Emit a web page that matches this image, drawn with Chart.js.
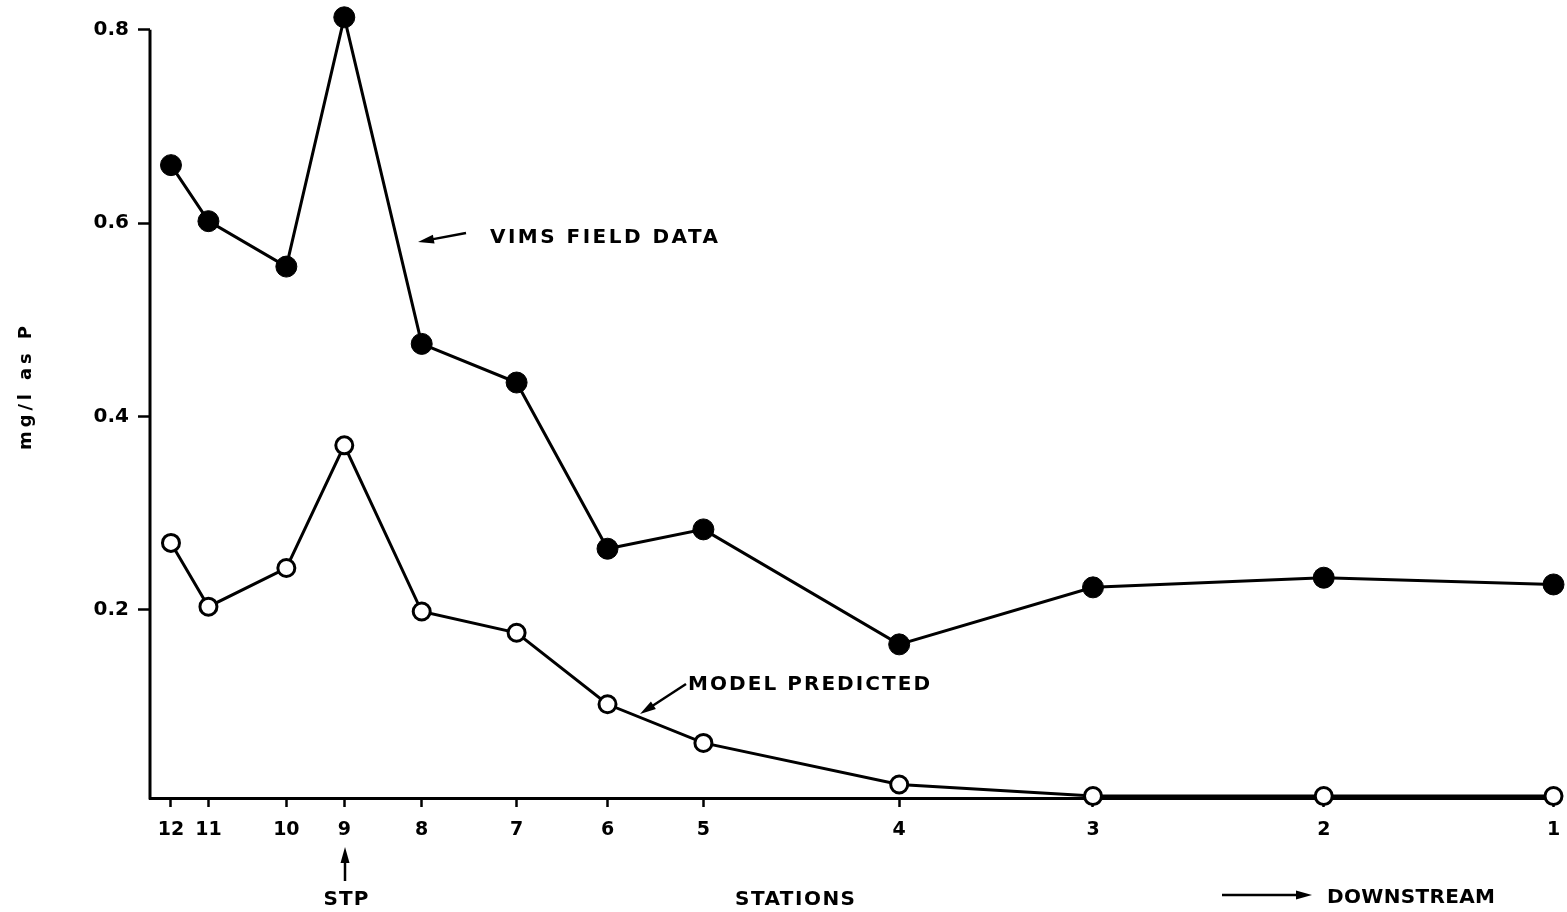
<!DOCTYPE html>
<html>
<head>
<meta charset="utf-8">
<script src="https://cdn.jsdelivr.net/npm/chart.js@4.4.1/dist/chart.umd.min.js"></script>
<style>
  html, body { margin: 0; padding: 0; background: #fff; }
  canvas { display: block; }
</style>
</head>
<body>
<canvas id="phosChart" width="1567" height="912"></canvas>
<script>
// stations listed upstream -> downstream, with distance along the river (arbitrary units from station 12)
const stations = ["12", "11", "10", "9", "8", "7", "6", "5", "4", "3", "2", "1"];
const stationDist = [0, 0.75, 2.31, 3.47, 5.02, 6.92, 8.74, 10.66, 14.58, 18.46, 23.08, 27.68];

// mg/l as P
const fieldData = [0.660, 0.602, 0.555, 0.813, 0.475, 0.435, 0.263, 0.283, 0.164, 0.223, 0.233, 0.226];
const modelPredicted = [0.269, 0.203, 0.243, 0.370, 0.198, 0.176, 0.102, 0.062, 0.019, 0.007, 0.007, 0.007];

const yTicks = [0.2, 0.4, 0.6, 0.8];

const FONT = "'DejaVu Sans', 'Liberation Sans', sans-serif";

function toPoints(values) {
  return values.map((v, i) => ({ x: stationDist[i], y: v }));
}

// text stretched over a given width with letter spacing, like the hand lettering
function spacedText(ctx, text, x, y, width, align) {
  ctx.letterSpacing = "0px";
  const plain = ctx.measureText(text).width;
  const gap = Math.max(0, (width - plain) / (text.length - 1));
  ctx.letterSpacing = gap + "px";
  ctx.textAlign = "left";
  let left = x;
  if (align === "center") left = x - width / 2;
  if (align === "right") left = x - width;
  ctx.fillText(text, left, y);
  ctx.letterSpacing = "0px";
}

function arrow(ctx, x1, y1, x2, y2) {
  const ang = Math.atan2(y2 - y1, x2 - x1);
  const len = 16, half = 4.5;
  ctx.beginPath();
  ctx.moveTo(x1, y1);
  ctx.lineTo(x2 - Math.cos(ang) * len * 0.8, y2 - Math.sin(ang) * len * 0.8);
  ctx.stroke();
  ctx.beginPath();
  ctx.moveTo(x2, y2);
  ctx.lineTo(x2 - Math.cos(ang) * len - Math.sin(ang) * half, y2 - Math.sin(ang) * len + Math.cos(ang) * half);
  ctx.lineTo(x2 - Math.cos(ang) * len + Math.sin(ang) * half, y2 - Math.sin(ang) * len - Math.cos(ang) * half);
  ctx.closePath();
  ctx.fill();
}

// y axis line only runs up to the top tick (0.8), points may rise above it
const yAxisLine = {
  id: "yAxisLine",
  beforeDatasetsDraw(chart) {
    const { ctx, scales: { x, y } } = chart;
    ctx.save();
    ctx.strokeStyle = "#000";
    ctx.lineWidth = 3;
    ctx.beginPath();
    ctx.moveTo(x.left, y.getPixelForValue(yTicks[yTicks.length - 1]));
    ctx.lineTo(x.left, y.bottom + 1.5);
    ctx.stroke();
    ctx.restore();
  }
};

const notes = {
  id: "notes",
  afterDraw(chart) {
    const ctx = chart.ctx;
    ctx.save();
    ctx.fillStyle = "#000";
    ctx.strokeStyle = "#000";
    ctx.lineWidth = 2.5;
    ctx.textBaseline = "alphabetic";

    ctx.font = "bold 20px " + FONT;
    spacedText(ctx, "VIMS FIELD DATA", 490, 243, 228);
    arrow(ctx, 466, 233, 418, 242);

    spacedText(ctx, "MODEL PREDICTED", 688, 690, 242);
    arrow(ctx, 686, 684, 640, 714);

    spacedText(ctx, "STP", 346, 905, 45, "center");
    arrow(ctx, 345, 881, 345, 847);

    spacedText(ctx, "STATIONS", 795, 905, 120, "center");
    spacedText(ctx, "DOWNSTREAM", 1327, 903, 168);
    arrow(ctx, 1222, 895, 1312, 895);

    // y axis title
    ctx.save();
    ctx.translate(31, 388);
    ctx.rotate(-Math.PI / 2);
    ctx.font = "bold 18px " + FONT;
    spacedText(ctx, "mg/l as P", 0, 0, 124, "center");
    ctx.restore();

    ctx.restore();
  }
};

new Chart(document.getElementById("phosChart").getContext("2d"), {
  type: "line",
  data: {
    datasets: [
      {
        label: "VIMS FIELD DATA",
        data: toPoints(fieldData),
        borderColor: "#000",
        borderWidth: 3,
        pointRadius: 10.5,
        pointBackgroundColor: "#000",
        pointBorderColor: "#000",
        pointBorderWidth: 1,
        tension: 0,
        clip: false
      },
      {
        label: "MODEL PREDICTED",
        data: toPoints(modelPredicted),
        borderColor: "#000",
        borderWidth: 3,
        pointRadius: 8.5,
        pointBackgroundColor: "#fff",
        pointBorderColor: "#000",
        pointBorderWidth: 3,
        tension: 0,
        clip: false
      }
    ]
  },
  options: {
    responsive: false,
    animation: false,
    events: [],
    layout: { padding: { top: 1, right: 6, left: 0, bottom: 0 } },
    plugins: {
      legend: { display: false },
      tooltip: { enabled: false }
    },
    scales: {
      x: {
        type: "linear",
        min: -0.42,
        max: 27.72,
        afterFit(scale) {
          scale.height = 114;
          scale.paddingLeft = 0;
          scale.paddingRight = 0;
        },
        afterBuildTicks(scale) {
          scale.ticks = stationDist.map(v => ({ value: v }));
        },
        ticks: {
          autoSkip: false,
          maxRotation: 0,
          padding: 12,
          color: "#000",
          font: { family: FONT, size: 19, weight: "bold" },
          callback: (value, index) => stations[index]
        },
        grid: {
          drawOnChartArea: false,
          drawTicks: true,
          tickLength: 9,
          tickWidth: 2.5,
          tickColor: "#000"
        },
        border: { color: "#000", width: 3 }
      },
      y: {
        min: 0.005,
        max: 0.819,
        afterFit(scale) {
          scale.width = 150;
          scale.paddingTop = 0;
          scale.paddingBottom = 0;
        },
        afterBuildTicks(scale) {
          scale.ticks = yTicks.map(v => ({ value: v }));
        },
        ticks: {
          padding: 9,
          color: "#000",
          font: { family: FONT, size: 20, weight: "bold" },
          callback: v => v.toFixed(1)
        },
        grid: {
          drawOnChartArea: false,
          drawTicks: true,
          tickLength: 12,
          tickWidth: 2.5,
          tickColor: "#000"
        },
        border: { display: false }
      }
    }
  },
  plugins: [yAxisLine, notes]
});
</script>
</body>
</html>
